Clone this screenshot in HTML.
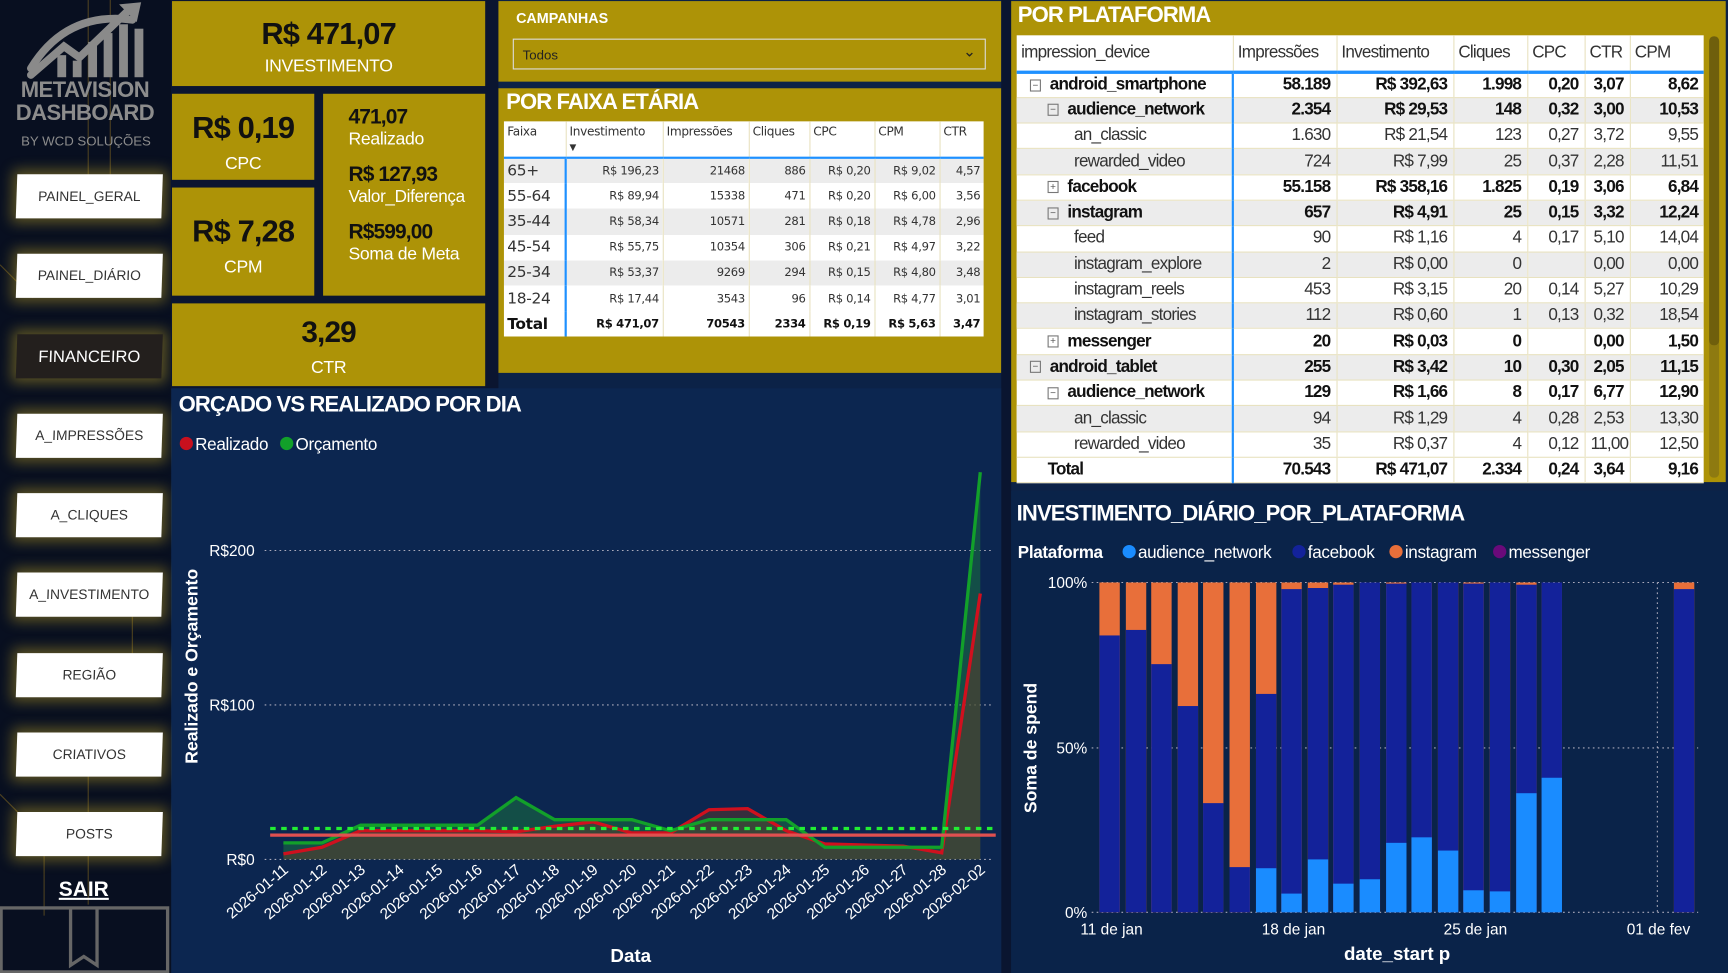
<!DOCTYPE html>
<html><head><meta charset="utf-8">
<style>
html,body{margin:0;padding:0;width:1728px;height:973px;overflow:hidden;background:#0a1d3c;}
#root{position:absolute;left:0;top:0;width:1567px;height:882px;transform:scale(1.1027,1.1032);transform-origin:0 0;font-family:"Liberation Sans",sans-serif;background:#0c2247;}
.abs{position:absolute;}
.gold{background:#ad9307;}
.side{left:0;top:0;width:155px;height:882px;background:#080f20;}
.btn{position:absolute;left:15px;width:132px;height:40px;background:#fff;color:#333;font-size:12.5px;display:flex;align-items:center;justify-content:center;box-shadow:0 0 12px 4px rgba(200,170,40,.45);transform:skewX(-2deg);}
.kv{color:#111;font-weight:bold;text-align:center;letter-spacing:-0.8px;}
.kl{color:#fff;text-align:center;font-size:16px;letter-spacing:-0.3px;}
.ttl{color:#fff;font-weight:bold;font-size:20px;letter-spacing:-0.8px;}
table{border-collapse:collapse;table-layout:fixed;}
td,th{white-space:nowrap;overflow:hidden;}
.ft{position:absolute;left:457px;top:110px;width:435px;background:#fff;font-family:"DejaVu Sans",sans-serif;font-size:10.5px;color:#333;letter-spacing:-0.3px;}
.ft td{height:23.2px;padding:0 3px;text-align:right;border-left:1px solid #e8e2c0;box-sizing:border-box;}
.ft tr:nth-child(even) td{background:#ececec;}
.ft td:first-child{text-align:left;font-size:14px;border-left:none;border-right:2px solid #1e90ff;}
.ft th{height:30px;font-weight:normal;text-align:left;vertical-align:top;padding:3px 3px;border-left:1px solid #e8e2c0;border-bottom:2px solid #1e90ff;font-size:11px;box-sizing:border-box;}
.pt{position:absolute;left:922px;top:32px;width:623px;background:#fff;font-size:15.5px;color:#333;letter-spacing:-0.7px;}
.pt td{height:23.3px;padding:0 5px;text-align:right;border-left:1px solid #e8e2c0;border-bottom:1px solid #e8e2c0;box-sizing:border-box;}
.pt td:first-child{text-align:left;border-left:none;border-right:2px solid #1e90ff;}
.pt th{height:33px;font-weight:normal;text-align:left;padding:0 4px;border-left:1px solid #e8e2c0;border-bottom:3px solid #1e90ff;font-size:15.5px;box-sizing:border-box;}
.pt tr.g td{background:#ececec;}
.pt tr.b td{font-weight:bold;color:#111;}
.i1{padding-left:28px !important;} .i2{padding-left:52px !important;} .i0{padding-left:12px !important;}
.bx{display:inline-block;width:8px;height:9px;border:1px solid #777;font-size:9px;line-height:8px;text-align:center;margin-right:8px;vertical-align:middle;color:#555;font-weight:normal;letter-spacing:0;}
</style></head><body>
<div id="root">
<svg class="abs" style="left:0;top:0" width="1567" height="882">
 <g fill="#cfd6e6" opacity=".5">
  <circle cx="300" cy="420" r=".8"/><circle cx="420" cy="460" r=".8"/><circle cx="600" cy="440" r=".8"/><circle cx="700" cy="520" r=".8"/><circle cx="820" cy="470" r=".8"/><circle cx="350" cy="600" r=".8"/><circle cx="520" cy="650" r=".8"/><circle cx="760" cy="610" r=".8"/><circle cx="860" cy="700" r=".8"/><circle cx="640" cy="560" r=".8"/>
 </g>
</svg>
<div class="abs side"></div>
<svg class="abs" style="left:0;top:0" width="155" height="882">
 <g stroke="#6a5620" fill="none" opacity=".7"><path d="M80 0 V160"/><path d="M100 0 V160"/><path d="M0 240 L30 270"/><path d="M120 550 V630"/><path d="M80 700 V820"/><path d="M0 720 L40 760 V830"/></g>
 <g fill="none" stroke="#8a8a8a" stroke-width="7" stroke-linecap="round">
  <path d="M28 62 Q60 10 120 18"/><path d="M28 68 L58 42 L72 52 L118 8"/>
 </g>
 <polygon points="108,4 128,2 124,20" fill="#8a8a8a"/>
 <g fill="#8a8a8a"><rect x="52" y="50" width="8" height="20"/><rect x="66" y="55" width="8" height="15"/><rect x="80" y="38" width="8" height="32"/><rect x="94" y="30" width="8" height="40"/><rect x="108" y="22" width="8" height="48"/><rect x="122" y="26" width="8" height="44"/></g>
 <text x="77" y="88" text-anchor="middle" fill="#8c8c8c" font-family="Liberation Sans" font-weight="bold" font-size="20" letter-spacing="-0.5">METAVISION</text>
 <text x="77" y="109" text-anchor="middle" fill="#8c8c8c" font-family="Liberation Sans" font-weight="bold" font-size="20" letter-spacing="-0.5">DASHBOARD</text>
 <text x="78" y="132" text-anchor="middle" fill="#8c8c8c" font-family="Liberation Sans" font-size="12">BY WCD SOLUÇÕES</text>
 <text x="76" y="812" text-anchor="middle" fill="#fff" font-family="Liberation Sans" font-weight="bold" font-size="19" text-decoration="underline">SAIR</text>
 <rect x="1" y="823" width="151" height="58" fill="none" stroke="#666" stroke-width="3"/>
 <path d="M64 823 V875 L76 867 L88 875 V823" fill="none" stroke="#666" stroke-width="3"/>
</svg>
<div class="btn" style="top:158px">PAINEL_GERAL</div>
<div class="btn" style="top:230px">PAINEL_DIÁRIO</div>
<div class="btn" style="top:303px;background:#231f1d;color:#fff;font-size:15px">FINANCEIRO</div>
<div class="btn" style="top:375px">A_IMPRESSÕES</div>
<div class="btn" style="top:447px">A_CLIQUES</div>
<div class="btn" style="top:519px">A_INVESTIMENTO</div>
<div class="btn" style="top:592px">REGIÃO</div>
<div class="btn" style="top:664px">CRIATIVOS</div>
<div class="btn" style="top:736px">POSTS</div>

<div class="abs" style="left:155px;top:0;width:297px;height:352px;background:#0b1530"></div>
<div class="abs gold" style="left:156px;top:1px;width:284px;height:77px">
 <div class="kv" style="font-size:28px;margin-top:14px">R$ 471,07</div><div class="kl" style="margin-top:5px">INVESTIMENTO</div></div>
<div class="abs gold" style="left:156px;top:85px;width:129px;height:78px">
 <div class="kv" style="font-size:28px;margin-top:15px">R$ 0,19</div><div class="kl" style="margin-top:8px">CPC</div></div>
<div class="abs gold" style="left:156px;top:170px;width:129px;height:98px">
 <div class="kv" style="font-size:28px;margin-top:24px">R$ 7,28</div><div class="kl" style="margin-top:8px">CPM</div></div>
<div class="abs gold" style="left:293px;top:85px;width:147px;height:183px;padding-left:23px;box-sizing:border-box">
 <div class="kv" style="text-align:left;font-size:19px;margin-top:11px">471,07</div><div class="kl" style="text-align:left">Realizado</div>
 <div class="kv" style="text-align:left;font-size:19px;margin-top:12px">R$ 127,93</div><div class="kl" style="text-align:left;font-size:15.5px">Valor_Diferença</div>
 <div class="kv" style="text-align:left;font-size:19px;margin-top:12px">R$599,00</div><div class="kl" style="text-align:left">Soma de Meta</div></div>
<div class="abs gold" style="left:156px;top:275px;width:284px;height:75px">
 <div class="kv" style="font-size:27px;margin-top:11px">3,29</div><div class="kl" style="margin-top:8px">CTR</div></div>

<div class="abs gold" style="left:452px;top:1px;width:456px;height:73px">
 <div style="color:#fff;font-weight:bold;font-size:13px;position:absolute;left:16px;top:8px">CAMPANHAS</div>
 <div style="position:absolute;left:13px;top:34px;width:429px;height:28px;border:1px solid #ddd;box-sizing:border-box;color:#222;font-size:12px;padding:7px 0 0 8px">Todos<span style="position:absolute;right:8px;top:2px;font-size:14px">&#8964;</span></div>
</div>
<div class="abs gold" style="left:452px;top:80px;width:456px;height:258px">
 <div class="ttl" style="position:absolute;left:7px;top:2px">POR FAIXA ETÁRIA</div></div>
<table class="ft">
<colgroup><col style="width:56px"><col style="width:88px"><col style="width:78px"><col style="width:55px"><col style="width:59px"><col style="width:59px"><col style="width:40px"></colgroup>
<tr><th style="border-left:none">Faixa</th><th>Investimento<br><span style="font-size:8px">&#9660;</span></th><th>Impressões</th><th>Cliques</th><th>CPC</th><th>CPM</th><th>CTR</th></tr>
<tr><td>65+</td><td>R$ 196,23</td><td>21468</td><td>886</td><td>R$ 0,20</td><td>R$ 9,02</td><td>4,57</td></tr>
<tr><td>55-64</td><td>R$ 89,94</td><td>15338</td><td>471</td><td>R$ 0,20</td><td>R$ 6,00</td><td>3,56</td></tr>
<tr><td>35-44</td><td>R$ 58,34</td><td>10571</td><td>281</td><td>R$ 0,18</td><td>R$ 4,78</td><td>2,96</td></tr>
<tr><td>45-54</td><td>R$ 55,75</td><td>10354</td><td>306</td><td>R$ 0,21</td><td>R$ 4,97</td><td>3,22</td></tr>
<tr><td>25-34</td><td>R$ 53,37</td><td>9269</td><td>294</td><td>R$ 0,15</td><td>R$ 4,80</td><td>3,48</td></tr>
<tr><td>18-24</td><td>R$ 17,44</td><td>3543</td><td>96</td><td>R$ 0,14</td><td>R$ 4,77</td><td>3,01</td></tr>
<tr style="font-weight:bold;color:#111"><td style="background:#fff">Total</td><td style="background:#fff">R$ 471,07</td><td style="background:#fff">70543</td><td style="background:#fff">2334</td><td style="background:#fff">R$ 0,19</td><td style="background:#fff">R$ 5,63</td><td style="background:#fff">3,47</td></tr>
</table>

<div class="abs" style="left:908px;top:0;width:9px;height:882px;background:#0a1530"></div>
<div class="abs gold" style="left:917px;top:1px;width:648px;height:436px">
 <div class="ttl" style="position:absolute;left:6px;top:2px">POR PLATAFORMA</div>
 <div style="position:absolute;left:633px;top:32px;width:9px;height:400px;background:#8e7a10;border-radius:4px"><div style="width:9px;height:280px;background:#6f5f0c;border-radius:4px"></div></div>
</div>
<table class="pt">
<colgroup><col style="width:196px"><col style="width:94px"><col style="width:106px"><col style="width:67px"><col style="width:52px"><col style="width:41px"><col style="width:67px"></colgroup>
<tr><th style="border-left:none">impression_device</th><th>Impressões</th><th>Investimento</th><th>Cliques</th><th>CPC</th><th>CTR</th><th>CPM</th></tr>
<tr class="b"><td class="i0"><span class="bx">−</span>android_smartphone</td><td>58.189</td><td>R$ 392,63</td><td>1.998</td><td>0,20</td><td>3,07</td><td>8,62</td></tr>
<tr class="b g"><td class="i1"><span class="bx">−</span>audience_network</td><td>2.354</td><td>R$ 29,53</td><td>148</td><td>0,32</td><td>3,00</td><td>10,53</td></tr>
<tr><td class="i2">an_classic</td><td>1.630</td><td>R$ 21,54</td><td>123</td><td>0,27</td><td>3,72</td><td>9,55</td></tr>
<tr class="g"><td class="i2">rewarded_video</td><td>724</td><td>R$ 7,99</td><td>25</td><td>0,37</td><td>2,28</td><td>11,51</td></tr>
<tr class="b"><td class="i1"><span class="bx">+</span>facebook</td><td>55.158</td><td>R$ 358,16</td><td>1.825</td><td>0,19</td><td>3,06</td><td>6,84</td></tr>
<tr class="b g"><td class="i1"><span class="bx">−</span>instagram</td><td>657</td><td>R$ 4,91</td><td>25</td><td>0,15</td><td>3,32</td><td>12,24</td></tr>
<tr><td class="i2">feed</td><td>90</td><td>R$ 1,16</td><td>4</td><td>0,17</td><td>5,10</td><td>14,04</td></tr>
<tr class="g"><td class="i2">instagram_explore</td><td>2</td><td>R$ 0,00</td><td>0</td><td></td><td>0,00</td><td>0,00</td></tr>
<tr><td class="i2">instagram_reels</td><td>453</td><td>R$ 3,15</td><td>20</td><td>0,14</td><td>5,27</td><td>10,29</td></tr>
<tr class="g"><td class="i2">instagram_stories</td><td>112</td><td>R$ 0,60</td><td>1</td><td>0,13</td><td>0,32</td><td>18,54</td></tr>
<tr class="b"><td class="i1"><span class="bx">+</span>messenger</td><td>20</td><td>R$ 0,03</td><td>0</td><td></td><td>0,00</td><td>1,50</td></tr>
<tr class="b g"><td class="i0"><span class="bx">−</span>android_tablet</td><td>255</td><td>R$ 3,42</td><td>10</td><td>0,30</td><td>2,05</td><td>11,15</td></tr>
<tr class="b"><td class="i1"><span class="bx">−</span>audience_network</td><td>129</td><td>R$ 1,66</td><td>8</td><td>0,17</td><td>6,77</td><td>12,90</td></tr>
<tr class="g"><td class="i2">an_classic</td><td>94</td><td>R$ 1,29</td><td>4</td><td>0,28</td><td>2,53</td><td>13,30</td></tr>
<tr><td class="i2">rewarded_video</td><td>35</td><td>R$ 0,37</td><td>4</td><td>0,12</td><td>11,00</td><td>12,50</td></tr>
<tr class="b"><td class="i0" style="padding-left:28px!important">Total</td><td>70.543</td><td>R$ 471,07</td><td>2.334</td><td>0,24</td><td>3,64</td><td>9,16</td></tr>
</table>

<svg class="abs" style="left:0;top:0" width="1567" height="882" font-family="Liberation Sans">
 <rect x="156" y="352" width="752" height="530" fill="#0c2650"/>
 <rect x="917" y="445" width="650" height="437" fill="#0a2349"/>
 <text x="162" y="373" fill="#fff" font-weight="bold" font-size="20" letter-spacing="-0.8">ORÇADO VS REALIZADO POR DIA</text>
 <circle cx="169" cy="402" r="6" fill="#c8101e"/><text x="177" y="408" fill="#fff" font-size="15.5" letter-spacing="-0.3">Realizado</text>
 <circle cx="260" cy="402" r="6" fill="#12a02a"/><text x="268" y="408" fill="#fff" font-size="15.5" letter-spacing="-0.3">Orçamento</text>
 <g stroke="#aab" stroke-dasharray="1.5,3" stroke-width="1"><line x1="240" y1="499" x2="900" y2="499"/><line x1="240" y1="639" x2="900" y2="639"/><line x1="240" y1="779" x2="900" y2="779"/></g>
 <g fill="#fff" font-size="14" text-anchor="end"><text x="231" y="504">R$200</text><text x="231" y="644">R$100</text><text x="231" y="784">R$0</text></g>
 <text transform="translate(179,604) rotate(-90)" fill="#fff" font-weight="bold" font-size="16" text-anchor="middle">Realizado e Orçamento</text>
 <polygon fill="#1a7040" opacity=".55" points="257,764 292,764 327,748 362,748 397,748 433,748 468,723 503,743 538,743 573,743 608,753 643,743 678,743 713,743 748,768 784,768 819,768 854,768 889,428 889,779 257,779"/>
 <polygon fill="#6a3a25" opacity=".45" points="257,774 292,768 327,753 362,753 397,753 433,753 468,754 503,749 538,745 573,755 608,755 643,734 678,733 713,753 748,765 784,766 819,767 854,773 889,538 889,779 257,779"/>
 <polyline fill="none" stroke="#d0101e" stroke-width="3" points="257,774 292,768 327,753 362,753 397,753 433,753 468,754 503,749 538,745 573,755 608,755 643,734 678,733 713,753 748,765 784,766 819,767 854,773 889,538"/>
 <polyline fill="none" stroke="#12a02a" stroke-width="3" points="257,764 292,764 327,748 362,748 397,748 433,748 468,723 503,743 538,743 573,743 608,753 643,743 678,743 713,743 748,768 784,768 819,768 854,768 889,428"/>
 <line x1="245" y1="757" x2="903" y2="757" stroke="#e05050" stroke-width="3"/>
 <line x1="245" y1="751" x2="903" y2="751" stroke="#22ee33" stroke-width="3" stroke-dasharray="5,5"/>
 <g fill="#fff" font-size="14" letter-spacing="-0.3">
  <text transform="translate(262,790) rotate(-40)" text-anchor="end">2026-01-11</text>
  <text transform="translate(297,790) rotate(-40)" text-anchor="end">2026-01-12</text>
  <text transform="translate(332,790) rotate(-40)" text-anchor="end">2026-01-13</text>
  <text transform="translate(367,790) rotate(-40)" text-anchor="end">2026-01-14</text>
  <text transform="translate(402,790) rotate(-40)" text-anchor="end">2026-01-15</text>
  <text transform="translate(438,790) rotate(-40)" text-anchor="end">2026-01-16</text>
  <text transform="translate(473,790) rotate(-40)" text-anchor="end">2026-01-17</text>
  <text transform="translate(508,790) rotate(-40)" text-anchor="end">2026-01-18</text>
  <text transform="translate(543,790) rotate(-40)" text-anchor="end">2026-01-19</text>
  <text transform="translate(578,790) rotate(-40)" text-anchor="end">2026-01-20</text>
  <text transform="translate(613,790) rotate(-40)" text-anchor="end">2026-01-21</text>
  <text transform="translate(648,790) rotate(-40)" text-anchor="end">2026-01-22</text>
  <text transform="translate(683,790) rotate(-40)" text-anchor="end">2026-01-23</text>
  <text transform="translate(718,790) rotate(-40)" text-anchor="end">2026-01-24</text>
  <text transform="translate(753,790) rotate(-40)" text-anchor="end">2026-01-25</text>
  <text transform="translate(789,790) rotate(-40)" text-anchor="end">2026-01-26</text>
  <text transform="translate(824,790) rotate(-40)" text-anchor="end">2026-01-27</text>
  <text transform="translate(859,790) rotate(-40)" text-anchor="end">2026-01-28</text>
  <text transform="translate(894,790) rotate(-40)" text-anchor="end">2026-02-02</text>
 </g>
 <text x="572" y="872" fill="#fff" font-weight="bold" font-size="17" text-anchor="middle">Data</text>

 <text x="922" y="472" fill="#fff" font-weight="bold" font-size="20" letter-spacing="-0.8">INVESTIMENTO_DIÁRIO_POR_PLATAFORMA</text>
 <text x="923" y="506" fill="#fff" font-weight="bold" font-size="15.5" letter-spacing="-0.3">Plataforma</text>
 <circle cx="1024" cy="500" r="6" fill="#1a8cff"/><text x="1032" y="506" fill="#fff" font-size="15.5" letter-spacing="-0.3">audience_network</text>
 <circle cx="1178" cy="500" r="6" fill="#13229a"/><text x="1186" y="506" fill="#fff" font-size="15.5" letter-spacing="-0.3">facebook</text>
 <circle cx="1266" cy="500" r="6" fill="#e86f3a"/><text x="1274" y="506" fill="#fff" font-size="15.5" letter-spacing="-0.3">instagram</text>
 <circle cx="1360" cy="500" r="6" fill="#6a0a7a"/><text x="1368" y="506" fill="#fff" font-size="15.5" letter-spacing="-0.3">messenger</text>
 <g stroke="#aab" stroke-dasharray="1.5,3"><line x1="990" y1="528" x2="1540" y2="528"/><line x1="990" y1="678" x2="1540" y2="678"/><line x1="990" y1="827" x2="1540" y2="827"/><line x1="1503" y1="528" x2="1503" y2="827"/></g>
 <g fill="#fff" font-size="14" text-anchor="end"><text x="986" y="533">100%</text><text x="986" y="683">50%</text><text x="986" y="832">0%</text></g>
 <text transform="translate(940,678) rotate(-90)" fill="#fff" font-weight="bold" font-size="16" text-anchor="middle">Soma de spend</text>
 <g fill="#e86f3a">
  <rect x="997" y="528" width="18.5" height="299"/><rect x="1021" y="528" width="18.5" height="299"/><rect x="1044" y="528" width="18.5" height="299"/><rect x="1068" y="528" width="18.5" height="299"/><rect x="1091" y="528" width="18.5" height="299"/><rect x="1115" y="528" width="18.5" height="299"/><rect x="1139" y="528" width="18.5" height="299"/><rect x="1162" y="528" width="18.5" height="299"/><rect x="1186" y="528" width="18.5" height="299"/><rect x="1209" y="528" width="18.5" height="299"/><rect x="1233" y="528" width="18.5" height="299"/><rect x="1257" y="528" width="18.5" height="299"/><rect x="1280" y="528" width="18.5" height="299"/><rect x="1304" y="528" width="18.5" height="299"/><rect x="1327" y="528" width="18.5" height="299"/><rect x="1351" y="528" width="18.5" height="299"/><rect x="1375" y="528" width="18.5" height="299"/><rect x="1398" y="528" width="18.5" height="299"/><rect x="1518" y="528" width="18.5" height="299"/>
 </g>
 <g fill="#13229a">
  <rect x="997" y="576" width="18.5" height="251"/><rect x="1021" y="571" width="18.5" height="256"/><rect x="1044" y="602" width="18.5" height="225"/><rect x="1068" y="640" width="18.5" height="187"/><rect x="1091" y="728" width="18.5" height="99"/><rect x="1115" y="786" width="18.5" height="41"/><rect x="1139" y="629" width="18.5" height="198"/><rect x="1162" y="534" width="18.5" height="293"/><rect x="1186" y="533" width="18.5" height="294"/><rect x="1209" y="530" width="18.5" height="297"/><rect x="1233" y="528" width="18.5" height="299"/><rect x="1257" y="529" width="18.5" height="298"/><rect x="1280" y="528" width="18.5" height="299"/><rect x="1304" y="528" width="18.5" height="299"/><rect x="1327" y="529" width="18.5" height="298"/><rect x="1351" y="528" width="18.5" height="299"/><rect x="1375" y="530" width="18.5" height="297"/><rect x="1398" y="528" width="18.5" height="299"/><rect x="1518" y="534" width="18.5" height="293"/>
 </g>
 <g fill="#1a8cff">
  <rect x="1139" y="787" width="18.5" height="40"/><rect x="1162" y="810" width="18.5" height="17"/><rect x="1186" y="779" width="18.5" height="48"/><rect x="1209" y="801" width="18.5" height="26"/><rect x="1233" y="797" width="18.5" height="30"/><rect x="1257" y="764" width="18.5" height="63"/><rect x="1280" y="759" width="18.5" height="68"/><rect x="1304" y="771" width="18.5" height="56"/><rect x="1327" y="807" width="18.5" height="20"/><rect x="1351" y="808" width="18.5" height="19"/><rect x="1375" y="719" width="18.5" height="108"/><rect x="1398" y="705" width="18.5" height="122"/>
 </g>
 <g fill="#fff" font-size="14" text-anchor="middle"><text x="1008" y="847">11 de jan</text><text x="1173" y="847">18 de jan</text><text x="1338" y="847">25 de jan</text><text x="1504" y="847">01 de fev</text></g>
 <text x="1267" y="870" fill="#fff" font-weight="bold" font-size="17" text-anchor="middle">date_start p</text>
</svg>
</div>
</body></html>
